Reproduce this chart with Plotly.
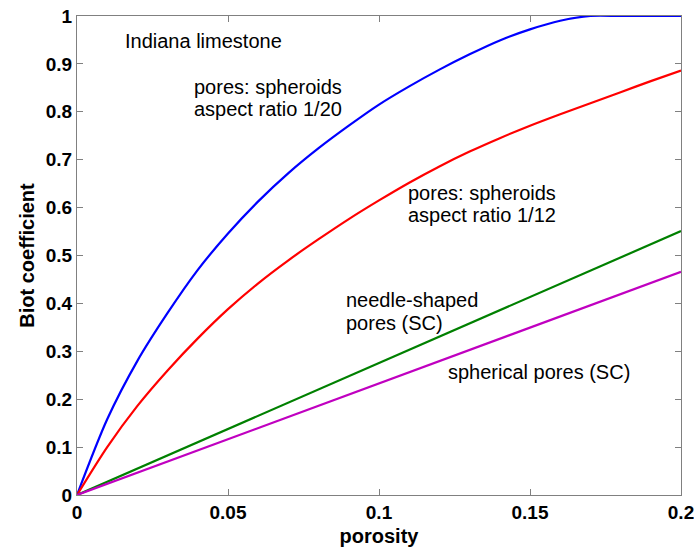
import plotly.graph_objects as go

porosity = [0.0, 0.01, 0.02, 0.03, 0.04, 0.05, 0.06, 0.07, 0.08, 0.09, 0.10,
            0.11, 0.12, 0.13, 0.14, 0.15, 0.16, 0.17, 0.18, 0.19, 0.20]
biot_ar20 = [0.0, 0.158, 0.28, 0.38, 0.47, 0.546, 0.613, 0.672, 0.724, 0.771, 0.815,
             0.853, 0.888, 0.92, 0.949, 0.972, 0.99, 1.0, 1.0, 1.0, 1.0]
biot_ar12 = [0.0, 0.1, 0.186, 0.26, 0.327, 0.388, 0.442, 0.49, 0.534, 0.576, 0.615,
             0.652, 0.686, 0.717, 0.745, 0.771, 0.795, 0.818, 0.841, 0.864, 0.886]
porosity_lin = [0.0, 0.2]
biot_needle = [0.0, 0.551]
biot_sphere = [0.0, 0.466]

x_ticks = [0, 0.05, 0.1, 0.15, 0.2]
x_ticklabels = ["0", "0.05", "0.1", "0.15", "0.2"]
y_ticks = [0, 0.1, 0.2, 0.3, 0.4, 0.5, 0.6, 0.7, 0.8, 0.9, 1]
y_ticklabels = ["0", "0.1", "0.2", "0.3", "0.4", "0.5", "0.6", "0.7", "0.8", "0.9", "1"]

labels = [
    ("Indiana limestone", 0.0152, 0.948),
    ("pores: spheroids", 0.038, 0.851),
    ("aspect ratio 1/20", 0.038, 0.805),
    ("pores: spheroids", 0.1091, 0.630),
    ("aspect ratio 1/12", 0.1091, 0.584),
    ("needle-shaped", 0.0884, 0.407),
    ("pores (SC)", 0.0884, 0.359),
    ("spherical pores (SC)", 0.1223, 0.257),
]

FONT = "Liberation Sans, Arial, sans-serif"

fig = go.Figure()
fig.add_trace(go.Scatter(x=porosity, y=biot_ar20, mode="lines",
                         line=dict(color="#0000ff", width=2.2, shape="spline", smoothing=0.8)))
fig.add_trace(go.Scatter(x=porosity, y=biot_ar12, mode="lines",
                         line=dict(color="#ff0000", width=2.2, shape="spline", smoothing=0.8)))
fig.add_trace(go.Scatter(x=porosity_lin, y=biot_needle, mode="lines",
                         line=dict(color="#008000", width=2.2)))
fig.add_trace(go.Scatter(x=porosity_lin, y=biot_sphere, mode="lines",
                         line=dict(color="#c000c0", width=2.2)))

for text, x, y in labels:
    fig.add_annotation(x=x, y=y, xref="x", yref="y", text=text, showarrow=False,
                       xanchor="left", yanchor="middle",
                       font=dict(family=FONT, size=20, color="black"))

axis_common = dict(
    showline=True, linecolor="#808080", linewidth=1, mirror="ticks",
    ticks="inside", ticklen=6, tickcolor="#808080", tickwidth=1,
    showgrid=False, zeroline=False, ticklabeloverflow="allow", automargin=False,
    tickfont=dict(family=FONT, size=19, color="black", weight="bold"),
)

fig.update_xaxes(range=[0, 0.2], tickvals=x_ticks, ticktext=x_ticklabels,
                 title=dict(text="porosity", standoff=9,
                            font=dict(family=FONT, size=20, color="black", weight="bold")),
                 **axis_common)
fig.update_yaxes(range=[0, 1], tickvals=y_ticks, ticktext=y_ticklabels,
                 title=dict(text="Biot coefficient", standoff=5,
                            font=dict(family=FONT, size=20, color="black", weight="bold")),
                 **axis_common)

fig.update_layout(
    width=694, height=547,
    margin=dict(l=77, r=13, t=16, b=52),
    paper_bgcolor="white", plot_bgcolor="white",
    showlegend=False,
)

fig.write_html("out.html")
